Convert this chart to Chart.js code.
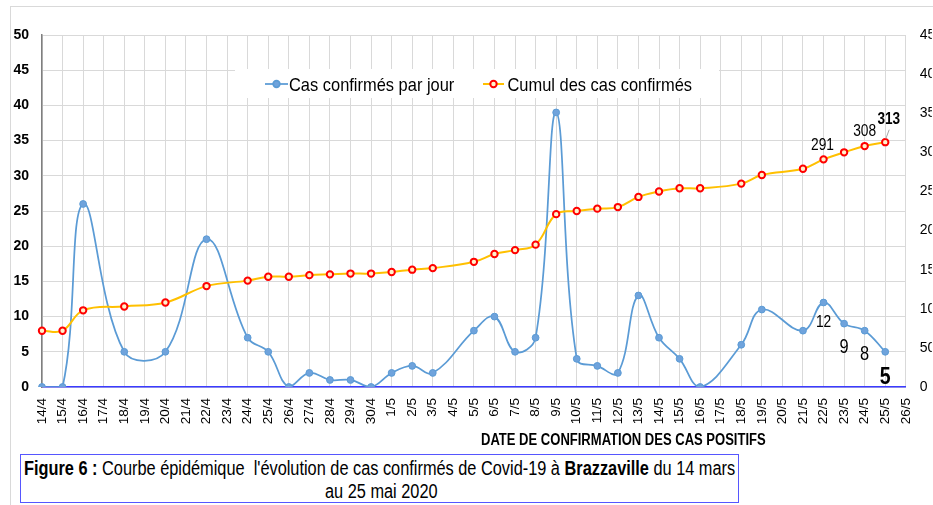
<!DOCTYPE html>
<html>
<head>
<meta charset="utf-8">
<script src="https://cdn.jsdelivr.net/npm/chart.js@4.4.1/dist/chart.umd.min.js"></script>
<style>
  body { margin: 0; background: #fff; font-family: "Liberation Sans", Arial, sans-serif; }
  #wrap { position: relative; width: 933px; height: 505px; overflow: hidden; }
  #frame { position: absolute; left: 10px; top: 6px; width: 940px; height: 520px;
           border-top: 1px solid #d9d9d9; border-left: 1px solid #d9d9d9; }
  #chart { position: absolute; left: 0; top: 0; }
  .sq { position: absolute; white-space: nowrap; transform-origin: 0 0; color: #000; }
  #xtitle { font-weight: bold; font-size: 16px; line-height: 16px; }
  #caption { position: absolute; left: 20px; top: 454px; width: 717px; height: 47px;
             border: 1.5px solid #5656ff; }
  .cap { font-size: 19.5px; line-height: 20px; }
</style>
</head>
<body>
<div id="wrap">
  <div id="frame"></div>
  <canvas id="chart" width="933" height="450"></canvas>
  <div id="xtitle" class="sq">DATE DE CONFIRMATION DES CAS POSITIFS</div>
  <div id="caption"></div>
  <div id="cap1" class="sq cap"><b>Figure 6 :</b> Courbe épidémique&nbsp; l'évolution de cas confirmés de Covid-19 à <b>Brazzaville</b> du 14 mars</div>
  <div id="cap2" class="sq cap">au 25 mai 2020</div>
</div>
<script>
// dates (x axis)
var dates = ["14/4","15/4","16/4","17/4","18/4","19/4","20/4","21/4","22/4","23/4","24/4","25/4","26/4","27/4","28/4","29/4","30/4",
             "1/5","2/5","3/5","4/5","5/5","6/5","7/5","8/5","9/5","10/5","11/5","12/5","13/5","14/5","15/5","16/5","17/5","18/5",
             "19/5","20/5","21/5","22/5","23/5","24/5","25/5","26/5"];

// cas confirmés par jour (left axis), null = no point that day
var casJour = [0, 0, 26, null, 5, null, 5, null, 21, null, 7, 5, 0, 2, 1, 1, 0,
               2, 3, 2, null, 8, 10, 5, 7, 39, 4, 3, 2, 13, 7, 4, 0, null, 6,
               11, null, 8, 12, 9, 8, 5, null];

// cumul des cas confirmés (right axis)
var cumul = [72, 72, 98, null, 103, null, 108, null, 129, null, 136, 141, 141, 143, 144, 145, 145,
             147, 150, 152, null, 160, 170, 175, 182, 221, 225, 228, 230, 243, 250, 254, 254, null, 260,
             271, null, 279, 291, 300, 308, 313, null];

var seriesNames = ["Cas confirmés par jour", "Cumul des cas confirmés"];

// value labels written on the chart
var cumulNotes = [["22/5", "291"], ["24/5", "308"], ["25/5", "313"]];
var jourNotes = [["22/5", "12"], ["23/5", "9"], ["24/5", "8"], ["25/5", "5"]];

var FONT = '"Liberation Sans", Arial, sans-serif';
var BLUE = "#5B9BD5";
var ORANGE = "#FFC000";

function squeeze(ctx, text, x, y, font, scale, align) {
    ctx.save();
    ctx.font = font;
    ctx.translate(x, y);
    ctx.scale(scale, 1);
    ctx.textAlign = align || "left";
    ctx.textBaseline = "alphabetic";
    ctx.fillStyle = "#000";
    ctx.fillText(text, 0, 0);
    ctx.restore();
}

// legend box sitting inside the plot
var legendBox = {
    id: "legendBox",
    beforeDatasetsDraw: function(chart) {
        var ctx = chart.ctx;
        ctx.save();
        ctx.fillStyle = "#fff";
        ctx.fillRect(235, 69, 484, 29);
        // blue item
        ctx.strokeStyle = BLUE; ctx.lineWidth = 1.75;
        ctx.beginPath(); ctx.moveTo(265, 84); ctx.lineTo(288, 84); ctx.stroke();
        ctx.fillStyle = "#6FA3DC";
        ctx.beginPath(); ctx.arc(276.5, 84, 3.3, 0, Math.PI * 2); ctx.fill(); ctx.stroke();
        // orange item
        ctx.strokeStyle = ORANGE; ctx.lineWidth = 2;
        ctx.beginPath(); ctx.moveTo(483, 84); ctx.lineTo(504, 84); ctx.stroke();
        ctx.strokeStyle = "#FF0000"; ctx.fillStyle = "#FFF2CC";
        ctx.beginPath(); ctx.arc(493.5, 84, 3.2, 0, Math.PI * 2); ctx.fill(); ctx.stroke();
        ctx.restore();
        squeeze(ctx, seriesNames[0], 289, 90.7, "19px " + FONT, 0.865);
        squeeze(ctx, seriesNames[1], 507.5, 90.7, "19px " + FONT, 0.865);
    }
};

// value labels near the last points
var valueNotes = {
    id: "valueNotes",
    afterDatasetsDraw: function(chart) {
        var ctx = chart.ctx;
        var m0 = chart.getDatasetMeta(0).data;
        var m1 = chart.getDatasetMeta(1).data;
        var cumStyle = [
            {font: "16px " + FONT, dy: -9.5, dx: -1, sc: 0.86},
            {font: "16px " + FONT, dy: -10.5, dx: 0, sc: 0.86},
            {font: "bold 17px " + FONT, dy: -18.5, dx: 3.5, sc: 0.8}
        ];
        cumulNotes.forEach(function(n, i) {
            var p = m1[dates.indexOf(n[0])];
            var s = cumStyle[i];
            squeeze(ctx, n[1], p.x + s.dx, p.y + s.dy, s.font, s.sc, "center");
        });
        // leader line for the last cumul label
        var pl = m1[dates.indexOf(cumulNotes[cumulNotes.length - 1][0])];
        ctx.save();
        ctx.strokeStyle = "#a6a6a6"; ctx.lineWidth = 1;
        ctx.beginPath(); ctx.moveTo(pl.x + 0.6, pl.y - 3.5); ctx.lineTo(pl.x + 4, pl.y - 12.5); ctx.stroke();
        ctx.restore();

        var jourStyle = [
            {font: "16px " + FONT, dy: 24, sc: 0.86},
            {font: "20px " + FONT, dy: 29, sc: 0.82},
            {font: "20px " + FONT, dy: 29, sc: 0.82},
            {font: "bold 23px " + FONT, dy: 32, sc: 0.85}
        ];
        jourNotes.forEach(function(n, i) {
            var p = m0[dates.indexOf(n[0])];
            var s = jourStyle[i];
            squeeze(ctx, n[1], p.x, p.y + s.dy, s.font, s.sc, "center");
        });
    }
};

var ctx = document.getElementById("chart").getContext("2d");
var chart = new Chart(ctx, {
    type: "line",
    data: {
        labels: dates,
        datasets: [
            {
                label: seriesNames[0],
                data: casJour,
                yAxisID: "y",
                borderColor: BLUE,
                borderWidth: 1.75,
                pointRadius: 3.4,
                pointBackgroundColor: "#6FA3DC",
                pointBorderColor: BLUE,
                pointBorderWidth: 1,
                tension: 0.4,
                spanGaps: true,
                order: 2
            },
            {
                label: seriesNames[1],
                data: cumul,
                yAxisID: "y2",
                borderColor: ORANGE,
                borderWidth: 2,
                pointRadius: 3.2,
                pointBackgroundColor: "#FFF2CC",
                pointBorderColor: "#FF0000",
                pointBorderWidth: 2,
                tension: 0.4,
                spanGaps: true,
                order: 1
            }
        ]
    },
    options: {
        responsive: false,
        animation: false,
        devicePixelRatio: 1,
        layout: { padding: { top: 35, left: 0, right: 0, bottom: 0 } },
        plugins: {
            legend: { display: false },
            tooltip: { enabled: false }
        },
        scales: {
            x: {
                type: "category",
                offset: false,
                grid: { color: "#d9d9d9", drawTicks: false },
                border: { color: "#3b3bff", width: 1.5 },
                ticks: {
                    autoSkip: false, maxRotation: 90, minRotation: 90,
                    padding: 11, color: "#000",
                    font: { family: FONT, size: 13.5 }
                },
                afterFit: function(s) { s.height = 63; }
            },
            y: {
                position: "left",
                min: 0, max: 50,
                grid: { color: "#d9d9d9", drawTicks: false },
                border: { color: "#7f7f7f", width: 1.5 },
                ticks: {
                    stepSize: 5, padding: 13, color: "#000",
                    font: { family: FONT, size: 14, weight: "bold" }
                },
                afterFit: function(s) { s.width = 42; }
            },
            y2: {
                position: "right",
                min: 0, max: 450,
                grid: { display: false, drawTicks: false },
                border: { display: false },
                ticks: {
                    stepSize: 50, padding: 14, color: "#000",
                    font: { family: FONT, size: 14 }
                },
                afterFit: function(s) { s.width = 26; }
            }
        }
    },
    plugins: [legendBox, valueNotes]
});

// squeeze the html texts to the widths they have in the figure
function fit(el, left, baseTop, width) {
    var w = el.scrollWidth;
    var k = width / w;
    el.style.left = left + "px";
    el.style.top = baseTop + "px";
    el.style.transform = "scaleX(" + k + ")";
    return k;
}
fit(document.getElementById("xtitle"), 481, 432, 285);
var k = fit(document.getElementById("cap1"), 24, 458, 711);
var c2 = document.getElementById("cap2");
c2.style.transform = "scaleX(" + k + ")";
c2.style.top = "481px";
c2.style.left = (381.5 - c2.scrollWidth * k / 2) + "px";
</script>
</body>
</html>
